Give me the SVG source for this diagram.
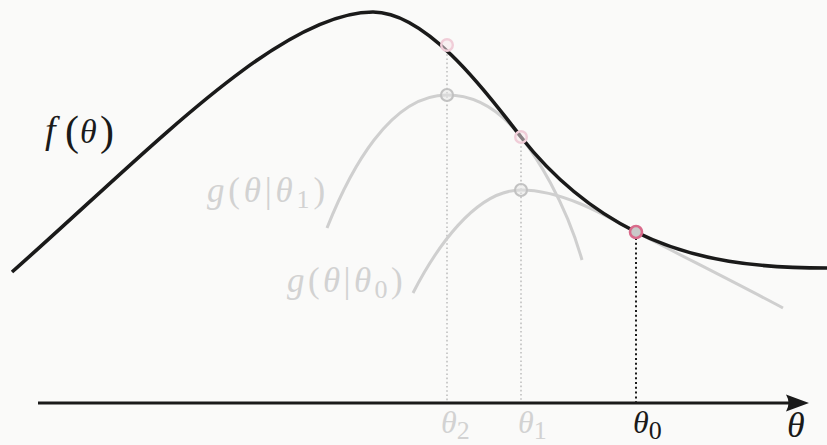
<svg xmlns="http://www.w3.org/2000/svg" width="827" height="445" viewBox="0 0 827 445">
  <style>
    .lbl { font-family: "Liberation Serif", "Times New Roman", serif; }
    .it { font-style: italic; }
    .dark { fill: #1a1a1a; }
    .faint { fill: #d2d2d2; }
    .gcurve { fill: none; stroke: #cfcfcf; stroke-width: 3; stroke-linecap: butt; }
    .fcurve { fill: none; stroke: #1a1a1a; stroke-width: 3.6; stroke-linecap: butt; }
    .gguide { stroke: #c0c0c0; stroke-width: 1.6; stroke-dasharray: 1.6 2.6; }
    .bguide { stroke: #1a1a1a; stroke-width: 2; stroke-dasharray: 2 2.8; }
    .pinkfaint { fill: #f6e6ea; fill-opacity: 0.5; stroke: #f0cdd8; stroke-width: 2.4; }
    .graypt { fill: #e6e6e6; fill-opacity: 0.5; stroke: #c2c2c2; stroke-width: 2.2; }
  </style>
  <rect width="827" height="445" fill="#fafaf9"/>

  <g id="guides">
    <line class="gguide" x1="447" y1="50" x2="447" y2="402"/>
    <line class="gguide" x1="521" y1="142" x2="521" y2="402"/>
    <line class="bguide" x1="636" y1="238" x2="636" y2="402"/>
  </g>

  <g id="g1-curve">
    <path class="gcurve" d="M327,228 C350,170 390,95 447,95 C475,95 500,110 521,137 C535,155 565,200 582,260"/>
  </g>
  <g id="g0-curve">
    <path class="gcurve" d="M413,293 C435,250 475,190 521,190 C560,190 600,212 636,232 C680,255 740,285 783,308"/>
  </g>
  <g id="f-curve">
    <path class="fcurve" d="M12,272 C150,150 280,12 373,12 C430,12 495,104 521,137 C556,181.5 596,212 636,232 C696,262 760,268 827,268"/>
  </g>

  <g id="points">
    <circle class="pinkfaint" cx="447" cy="45" r="5.8"/>
    <circle class="pinkfaint" cx="521" cy="137" r="5.8"/>
    <circle class="graypt" cx="447" cy="95" r="6"/>
    <circle class="graypt" cx="521" cy="190" r="6"/>
    <circle cx="636" cy="232" r="6" fill="#c9c9c9" stroke="#d96a8b" stroke-width="2.6"/>
  </g>

  <g id="axis">
    <line x1="38" y1="403" x2="792" y2="403" stroke="#1a1a1a" stroke-width="3"/>
    <path d="M809,403 L786,394.5 Q791,403 786,411.5 Z" fill="#1a1a1a"/>
  </g>

  <g id="labels" class="lbl">
    <text id="f-label" class="dark"><tspan x="45" y="143" class="it" font-size="38">f</tspan><tspan x="65" y="145" font-size="42">(</tspan><tspan x="80" y="143" class="it" font-size="34">θ</tspan><tspan x="100" y="145" font-size="42">)</tspan></text>
    <text id="g1-label" class="faint" x="207" y="202" font-size="35" letter-spacing="3.8"><tspan class="it">g</tspan>(<tspan class="it">θ</tspan>|<tspan class="it">θ</tspan><tspan font-size="26" dy="6">1</tspan><tspan dy="-6">)</tspan></text>
    <text id="g0-label" class="faint" x="287" y="292" font-size="35" letter-spacing="3.4"><tspan class="it">g</tspan>(<tspan class="it">θ</tspan>|<tspan class="it">θ</tspan><tspan font-size="26" dy="6">0</tspan><tspan dy="-6">)</tspan></text>
    <text id="theta2" class="faint" x="441" y="433" font-size="32"><tspan class="it">θ</tspan><tspan font-size="26" dy="6">2</tspan></text>
    <text id="theta1" class="faint" x="518" y="433" font-size="32"><tspan class="it">θ</tspan><tspan font-size="26" dy="6">1</tspan></text>
    <text id="theta0" class="dark" x="633" y="433" font-size="32"><tspan class="it">θ</tspan><tspan font-size="26" dy="6">0</tspan></text>
    <text id="theta-axis" class="dark it" x="787" y="437" font-size="36">θ</text>
  </g>
</svg>
